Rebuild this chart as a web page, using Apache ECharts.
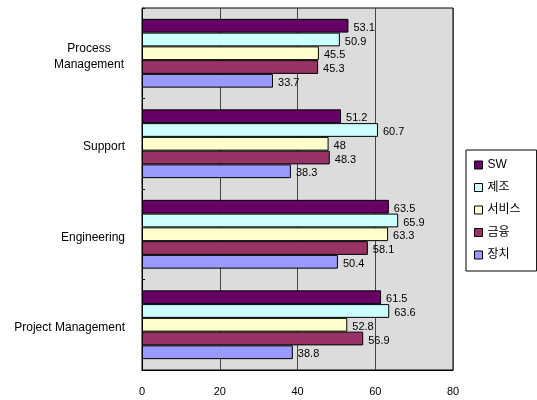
<!DOCTYPE html>
<html>
<head>
<meta charset="utf-8">
<script src="https://cdn.jsdelivr.net/npm/echarts@6/dist/echarts.min.js"></script>
<style>
  html, body { margin: 0; padding: 0; background: #fff; }
</style>
</head>
<body>
<div id="chart" style="width: 537px; height: 400px;"></div>
<script>
  // categories top to bottom
  var categories = ['Process\nManagement', 'Support', 'Engineering', 'Project Management']
  var seriesNames = ['SW', '제조', '서비스', '금융', '장치']
  var sw = [53.1, 51.2, 63.5, 61.5]
  var manufacture = [50.9, 60.7, 65.9, 63.6]
  var service = [45.5, 48, 63.3, 52.8]
  var finance = [45.3, 48.3, 58.1, 56.9]
  var device = [33.7, 38.3, 50.4, 38.8]
  var xTicks = [0, 20, 40, 60, 80]

  var colors = ['#660066', '#CCFFFF', '#FFFFCC', '#993366', '#9999FF']
  var font = 'Liberation Sans, Arial, Noto Sans CJK KR, sans-serif'
  var values = [sw, manufacture, service, finance, device]

  var chart = echarts.init(document.getElementById('chart'))

  var series = seriesNames.map(function (name, i) {
    return {
      name: name,
      type: 'bar',
      barGap: '0%',
      barCategoryGap: '24%',
      itemStyle: { color: colors[i], borderColor: '#000', borderWidth: 1 },
      label: {
        show: true,
        position: 'right',
        distance: 5,
        offset: [0, 2],
        color: '#000',
        fontSize: 11,
        fontFamily: font
      },
      data: values[i]
    }
  })

  var option = {
    animation: false,
    color: colors,
    grid: {
      left: 142, right: 84, top: 8, bottom: 30,
      show: true,
      backgroundColor: '#dcdcdc',
      borderColor: '#000',
      borderWidth: 1
    },
    legend: {
      orient: 'vertical',
      left: 466,
      top: 150,
      padding: [9, 16, 10, 8],
      backgroundColor: '#fff',
      borderColor: '#000',
      borderWidth: 1,
      borderRadius: 0,
      itemWidth: 8,
      itemHeight: 8,
      itemGap: 10.5,
      icon: 'rect',
      itemStyle: { borderColor: '#000', borderWidth: 1 },
      textStyle: { fontSize: 12, fontFamily: font, color: '#000' },
      data: seriesNames
    },
    xAxis: {
      type: 'value',
      min: xTicks[0],
      max: xTicks[xTicks.length - 1],
      interval: 20,
      axisLine: { show: true, lineStyle: { color: '#000' } },
      axisTick: { show: false },
      axisLabel: { margin: 16, fontSize: 11, fontFamily: font, color: '#000' },
      splitLine: { show: true, lineStyle: { color: '#444', width: 1 } }
    },
    yAxis: {
      type: 'category',
      inverse: true,
      data: categories,
      axisLine: { show: true, lineStyle: { color: '#000' } },
      axisTick: { show: true, inside: true, length: 3, lineStyle: { color: '#000' } },
      axisLabel: {
        margin: 17,
        fontSize: 12,
        fontFamily: font,
        color: '#000',
        padding: [6, 0, 0, 0],
        formatter: function (v) {
          if (v.indexOf('\n') < 0) return v
          return v.split('\n').map(function (s) { return '{c|' + s + '}' }).join('\n')
        },
        rich: {
          c: { width: 72, align: 'center', fontSize: 12, fontFamily: font, color: '#000', lineHeight: 16 }
        }
      }
    },
    series: series
  }

  chart.setOption(option)
</script>
</body>
</html>
